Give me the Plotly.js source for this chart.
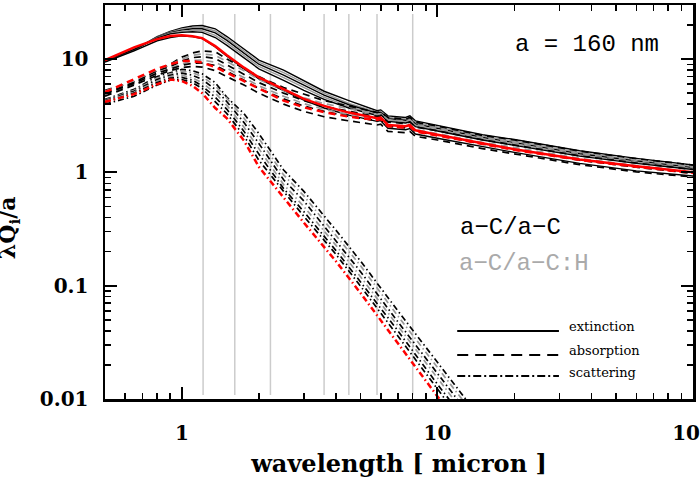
<!DOCTYPE html>
<html>
<head>
<meta charset="utf-8">
<script src="https://cdn.plot.ly/plotly-3.0.1.min.js"></script>
<style>body{margin:0;background:#fff;}</style>
</head>
<body>
<div id="qplot" style="width:700px;height:500px;"></div>
<script>
// wavelength grids (micron)
wlen=[0.5,0.65,0.8,0.9,1.0,1.1,1.2,1.35,1.5,1.75,2.0,2.5,3.0,3.6,4.5,5.8,6.0,6.4,7.5,7.8,8.2,10,15,20,36,60,100];
wlenSca=[0.5,0.65,0.8,0.9,1.0,1.1,1.2,1.35,1.5,1.75,2.0,2.5,3.0,4.0,5.0,7.0,10,15];

// extinction
extK1=[9.5,12.0,15.8,17.5,18.8,19.6,19.8,18.5,15.8,12.2,9.8,8.0,6.5,5.2,4.3,3.5,3.55,3.15,3.05,3.15,2.85,2.6,2.15,1.95,1.55,1.33,1.16];
extG1=[9.55,12.05,15.7,17.3,18.4,19.0,19.1,17.7,15.2,11.7,9.4,7.6,6.2,5.0,4.07,3.41,3.46,3.06,2.96,3.05,2.76,2.52,2.09,1.89,1.5,1.29,1.13];
extK2=[9.6,12.1,15.6,17.1,18.0,18.5,18.5,17.0,14.6,11.3,9.0,7.2,5.9,4.8,3.95,3.33,3.38,2.98,2.88,2.96,2.68,2.45,2.03,1.83,1.46,1.26,1.1];
extG2=[9.65,12.15,15.45,16.9,17.6,17.9,17.8,16.2,13.9,10.7,8.6,6.85,5.6,4.6,3.82,3.25,3.3,2.9,2.8,2.88,2.6,2.38,1.98,1.78,1.42,1.23,1.08];
extK3=[9.7,12.2,15.3,16.7,17.2,17.4,17.2,15.5,13.2,10.2,8.2,6.5,5.3,4.4,3.7,3.18,3.23,2.82,2.73,2.8,2.53,2.32,1.93,1.73,1.39,1.2,1.06];
extK4=[9.4,11.8,14.5,15.5,16.0,15.8,15.2,12.8,10.6,8.2,6.7,5.25,4.35,3.7,3.2,2.82,2.86,2.45,2.38,2.44,2.18,2.0,1.68,1.5,1.2,1.03,0.93];
extRed=[9.8,12.7,15.0,16.0,16.2,15.9,15.3,13.0,10.8,8.4,6.9,5.4,4.45,3.86,3.37,3.0,3.05,2.62,2.55,2.62,2.35,2.15,1.8,1.6,1.3,1.13,1.0];

// absorption
absK1=[5.3,6.3,7.9,9.0,10.4,11.3,11.8,11.6,10.0,8.3,7.0,5.6,4.9,4.3,3.85,3.38,3.43,3.05,2.96,3.05,2.77,2.56,2.12,1.93,1.54,1.32,1.16];
absG1=[5.2,6.4,8.0,8.9,10.0,10.8,11.1,10.8,9.5,7.9,6.6,5.3,4.55,4.05,3.65,3.24,3.29,2.92,2.84,2.92,2.65,2.45,2.03,1.84,1.47,1.27,1.11];
absK2=[5.0,6.2,7.8,8.6,9.6,10.3,10.5,10.1,8.9,7.4,6.2,5.0,4.3,3.82,3.45,3.1,3.15,2.78,2.7,2.78,2.51,2.33,1.94,1.75,1.4,1.21,1.06];
absG2=[4.85,6.0,7.6,8.3,9.1,9.7,9.8,9.4,8.3,6.9,5.8,4.7,4.05,3.6,3.25,2.95,3.0,2.64,2.56,2.64,2.38,2.2,1.84,1.66,1.33,1.15,1.01];
absK3=[4.95,6.1,7.5,8.1,8.8,9.2,9.2,8.8,7.8,6.5,5.5,4.45,3.85,3.45,3.12,2.86,2.91,2.55,2.47,2.55,2.3,2.13,1.78,1.6,1.28,1.11,0.98];
absK4=[4.7,5.9,7.2,7.9,8.4,8.6,8.5,7.9,7.0,5.9,5.0,4.0,3.45,3.1,2.85,2.62,2.66,2.3,2.24,2.3,2.08,1.93,1.62,1.45,1.17,1.01,0.91];
absRed=[5.1,6.6,8.2,9.0,9.6,9.6,9.3,8.5,7.6,6.4,5.5,4.3,3.75,3.4,3.1,2.9,2.95,2.55,2.48,2.55,2.3,2.12,1.78,1.58,1.29,1.12,0.99];

// scattering
scaK1=[4.4,5.4,7.0,7.6,8.1,7.9,7.4,6.2,4.6,3.3,2.2,1.05,0.68,0.31,0.165,0.06,0.021,0.0064];
scaG1=[4.35,5.3,6.8,7.4,7.8,7.6,7.0,5.8,4.5,3.0,2.0,0.95,0.62,0.28,0.15,0.054,0.019,0.0058];
scaK2=[4.3,5.2,6.6,7.2,7.5,7.2,6.6,5.4,4.2,2.75,1.8,0.86,0.56,0.25,0.133,0.048,0.0168,0.0051];
scaG2=[4.25,5.1,6.4,7.0,7.2,6.8,6.2,5.0,3.9,2.5,1.62,0.78,0.5,0.228,0.12,0.044,0.0151,0.0046];
scaK3=[4.15,5.0,6.2,6.8,6.9,6.5,5.8,4.6,3.6,2.3,1.45,0.72,0.45,0.205,0.108,0.04,0.0135,0.0041];
scaK4=[4.0,4.7,5.9,6.5,6.6,6.2,5.5,4.2,3.3,2.1,1.28,0.68,0.41,0.19,0.099,0.036,0.012,0.0036];
scaRed=[4.2,4.9,6.0,6.6,6.4,5.8,5.0,3.7,3.0,1.9,1.12,0.6,0.36,0.165,0.086,0.031,0.0104,0.0031];

// filter band markers
bandLines=[1.21,1.61,2.22,3.6,4.5,5.8,8.0];

legendNames=["extinction","absorption","scattering"];
dashes=["solid","7px,5px","6px,3px,1.5px,3px"];
legendDash=["solid","11px,7px","8px,3px,2px,3px"];

sets=[
  {x:wlen, ys:[extK1,extG1,extK2,extG2,extK3,extK4,extRed]},
  {x:wlen, ys:[absK1,absG1,absK2,absG2,absK3,absK4,absRed]},
  {x:wlenSca, ys:[scaK1,scaG1,scaK2,scaG2,scaK3,scaK4,scaRed]}
];
colors=["#000","#999","#000","#999","#000","#000","#ff0000"];

tracks=[];
redTracks=[];
for(let s=0;s<sets.length;s++)
{
    for(let k=0;k<sets[s].ys.length;k++)
    {
        let isRed=(k==sets[s].ys.length-1);
        let w=isRed?2.5:(s==0?1.4:1.7);
        let tr={
            x:sets[s].x, y:sets[s].ys[k],
            type:"scatter", mode:"lines",
            line:{color:colors[k], width:w, dash:dashes[s]},
            hoverinfo:"none", showlegend:false
        };
        if(isRed) redTracks.push(tr); else tracks.push(tr);
    }
}
tracks=tracks.concat(redTracks);

shapes=[];
for(let i=0;i<bandLines.length;i++){
    shapes.push({type:"line", layer:"below", xref:"x", yref:"paper",
        x0:bandLines[i], x1:bandLines[i], y0:0.01, y1:0.977,
        line:{color:"#cccccc", width:1.5}});
}
// legend keys
legY=[0.1726,0.1117,0.0584];
for(let i=0;i<3;i++){
    shapes.push({type:"line", xref:"paper", yref:"paper",
        x0:0.599, x1:0.772, y0:legY[i], y1:legY[i],
        line:{color:"#000", width:1.8, dash:legendDash[i]}});
}

tickFont={family:"DejaVu Serif", size:20, color:"#000", weight:"bold"};
monoFont={family:"Liberation Mono", size:24, color:"#000"};

annotations=[
  {xref:"paper",yref:"paper",x:0.694,y:0.901,xanchor:"left",yanchor:"middle",showarrow:false,
   text:"a = 160 nm", font:monoFont},
  {xref:"paper",yref:"paper",x:0.600,y:0.4365,xanchor:"left",yanchor:"middle",showarrow:false,
   text:"a\u2212C/a\u2212C", font:monoFont},
  {xref:"paper",yref:"paper",x:0.599,y:0.345,xanchor:"left",yanchor:"middle",showarrow:false,
   text:"a\u2212C/a\u2212C:H", font:{family:"Liberation Mono", size:24, color:"#aaaaaa"}},
  {xref:"paper",yref:"paper",x:-0.163,y:0.434,xanchor:"center",yanchor:"middle",showarrow:false,
   textangle:-90, text:"\u03bbQ<sub>i</sub>/a", font:{family:"DejaVu Serif", size:22, color:"#000", weight:"bold"}}
];
legTextY=[0.183,0.124,0.066];
for(let i=0;i<3;i++){
    annotations.push({xref:"paper",yref:"paper",x:0.786,y:legTextY[i],xanchor:"left",yanchor:"middle",
        showarrow:false, text:legendNames[i], font:{family:"DejaVu Serif", size:13, color:"#000"}});
}

layout={
    width:700, height:500,
    paper_bgcolor:"#fff", plot_bgcolor:"#fff",
    margin:{l:105, r:7, t:5, b:101},
    showlegend:false,
    xaxis:{type:"log", range:[Math.log10(0.5),2],
        title:{text:"wavelength [ micron ]", font:{family:"DejaVu Serif", size:24, color:"#000", weight:"bold"}, standoff:12},
        tickmode:"array", tickvals:[1,10,100], ticktext:["1","10","100"],
        ticks:"inside", ticklen:12, tickwidth:2, tickcolor:"#000",
        minor:{tickmode:"array", tickvals:[0.6,0.7,0.8,0.9,2,3,4,5,6,7,8,9,20,30,40,50,60,70,80,90],
               ticks:"inside", ticklen:6, tickwidth:1.5, tickcolor:"#000"},
        showline:true, linewidth:2.5, linecolor:"#000", mirror:"allticks",
        showgrid:false, zeroline:false, tickfont:tickFont, ticklabelstandoff:14,
        ticklabeloverflow:"allow"},
    yaxis:{type:"log", range:[-2,Math.log10(30)],
        tickmode:"array", tickvals:[0.01,0.1,1,10], ticktext:["0.01","0.1","1","10"],
        ticks:"inside", ticklen:12, tickwidth:2, tickcolor:"#000",
        minor:{tickmode:"array", tickvals:[0.02,0.03,0.04,0.05,0.06,0.07,0.08,0.09,0.2,0.3,0.4,0.5,0.6,0.7,0.8,0.9,2,3,4,5,6,7,8,9,20,30],
               ticks:"inside", ticklen:6, tickwidth:1.5, tickcolor:"#000"},
        showline:true, linewidth:2.5, linecolor:"#000", mirror:"allticks",
        showgrid:false, zeroline:false, tickfont:tickFont, ticklabelstandoff:10},
    shapes:shapes,
    annotations:annotations
};

Plotly.newPlot("qplot",tracks,layout,{displayModeBar:false, staticPlot:true});
</script>
</body>
</html>
